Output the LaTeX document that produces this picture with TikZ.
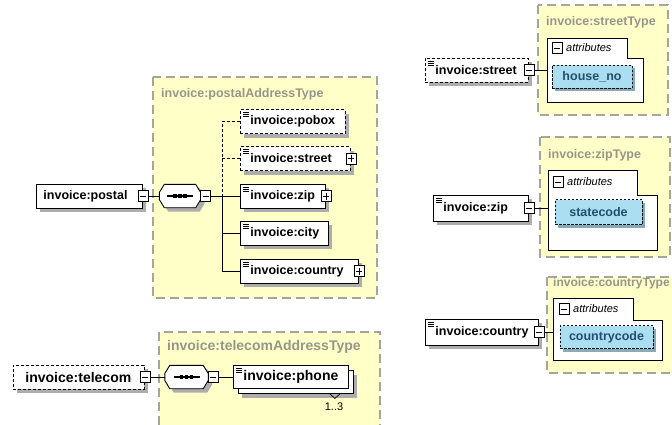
\documentclass[tikz,border=0pt]{standalone}
\usepackage{fontspec}
\setmainfont{Liberation Sans}
\usetikzlibrary{shadows}

\definecolor{typefill}{RGB}{255,255,200}
\definecolor{typeline}{RGB}{165,165,155}
\definecolor{typetext}{RGB}{150,150,140}
\definecolor{attrfill}{RGB}{170,222,240}
\definecolor{attrtext}{RGB}{35,80,110}
\definecolor{attrshade}{RGB}{135,170,185}

\tikzset{
  typebox/.style={fill=typefill, draw=typeline, line width=1.1pt, dash pattern=on 9pt off 5pt},
  typetitle/.style={anchor=west, inner sep=1pt, text=typetext, font=\bfseries\fontsize{12.5}{14}\selectfont},
  box/.style={rectangle, anchor=west, draw=black, line width=0.9pt, fill=white, minimum height=24pt, inner xsep=7pt, inner ysep=0pt, align=left, font=\bfseries\fontsize{12.5}{14}\selectfont},
  shadowed/.style={drop shadow={shadow xshift=4pt, shadow yshift=-4pt, fill=black!32, opacity=1}},
  elem/.style={box, shadowed},
  big/.style={font=\bfseries\fontsize{14}{16}\selectfont},
  optional/.style={dash pattern=on 3pt off 2pt},
  simple/.style={inner xsep=10pt, path picture={
      \foreach \k in {3,5,7}
        \draw[black, line width=0.6pt, solid] ([shift={(3pt,-\k pt)}]path picture bounding box.north west) -- ++(6pt,0);}},
  btn/.style={rectangle, draw=black, line width=0.7pt, fill=white, minimum width=10pt, minimum height=11pt, inner sep=0pt},
  collapse/.style={btn, path picture={
      \draw[line width=0.8pt] ([xshift=2pt]path picture bounding box.west) -- ([xshift=-2pt]path picture bounding box.east);}},
  expand/.style={btn, path picture={
      \draw[line width=0.8pt] ([xshift=2pt]path picture bounding box.west) -- ([xshift=-2pt]path picture bounding box.east);
      \draw[line width=0.8pt] ([yshift=2pt]path picture bounding box.south) -- ([yshift=-2pt]path picture bounding box.north);}},
  seq/.style={rectangle, minimum width=41pt, minimum height=23pt, inner sep=0pt},
  seqline/.style={draw=black, line width=0.9pt, fill=white, shadowed},
  attr/.style={rectangle, draw=black!80!attrtext, line width=0.9pt, dash pattern=on 2.5pt off 1.5pt, fill=attrfill, text=attrtext, font=\bfseries\fontsize{12.5}{14}\selectfont, minimum height=23pt, inner sep=0pt, drop shadow={shadow xshift=3pt, shadow yshift=-3pt, fill=attrshade, opacity=1}},
  attrbox/.style={draw=black, line width=0.9pt, fill=white},
  attrlabel/.style={anchor=west, inner sep=1pt, font=\itshape\fontsize{11}{13}\selectfont},
  link/.style={black, line width=0.9pt}
}

% octagon of a sequence node, with its three dots
\newcommand{\seqshape}[1]{%
  \draw[seqline] ([yshift=3.5pt]#1.west) -- ([xshift=5pt]#1.north west) -- ([xshift=-5pt]#1.north east)
    -- ([yshift=3.5pt]#1.east) -- ([yshift=-3.5pt]#1.east) -- ([xshift=-5pt]#1.south east)
    -- ([xshift=5pt]#1.south west) -- ([yshift=-3.5pt]#1.west) -- cycle;
  \draw[link, line width=1.1pt] ([xshift=-13pt]#1.center) -- ([xshift=13pt]#1.center);
  \foreach \d in {-5,0,5} \fill ([shift={(\d pt-1.6pt,1.6pt)}]#1.center) rectangle ++(3.2pt,-3.2pt);}

\begin{document}
\begin{tikzpicture}[x=1pt, y=-1pt]
\useasboundingbox (0,0) rectangle (672,424);

%types
\draw[typebox] (153,77) rectangle (377,298);
\draw[typebox] (159,332) rectangle (380,440);
\draw[typebox] (538,5) rectangle (668,115);
\draw[typebox] (540,137) rectangle (670,257);
\draw[typebox] (547,277) rectangle (680,373);
\node[typetitle] (postalT) at (160,94) {invoice:postalAddressType};
\node[typetitle, big] (telecomT) at (166,347) {invoice:telecomAddressType};
\node[typetitle] (streetT) at (545,22) {invoice:streetType};
\node[typetitle] (zipT) at (547,155) {invoice:zipType};
\node[typetitle, font=\bfseries\fontsize{12}{14}\selectfont] (countryT) at (552,283) {invoice:countryType};

%postal
\node[elem, text width=92pt] (postal) at (36,196) {invoice:postal};
\node[collapse] (postalBtn) at (postal.east) {};
\node[seq] (postalSeq) at (180,196) {};
\seqshape{postalSeq}
\node[collapse] (postalSeqBtn) at ([xshift=5pt]postalSeq.east) {};
\coordinate (trunk) at (222,196);
\node[elem, simple, optional, text width=85pt] (pobox) at (240,121.5) {invoice:pobox};
\node[elem, simple, optional, text width=90pt] (street) at (240,158.5) {invoice:street};
\node[expand] (streetBtn) at (street.east) {};
\node[elem, simple, text width=65pt] (zip) at (240,196) {invoice:zip};
\node[expand] (zipBtn) at (zip.east) {};
\node[elem, simple, text width=68pt] (city) at (240,233) {invoice:city};
\node[elem, simple, text width=98pt] (country) at (240,271) {invoice:country};
\node[expand] (countryBtn) at (country.east) {};

%telecom
\node[elem, optional, big, inner xsep=12pt, text width=107pt] (telecom) at (13,377) {invoice:telecom};
\node[collapse] (telecomBtn) at (telecom.east) {};
\node[seq, minimum width=43pt] (telecomSeq) at (186.5,377) {};
\seqshape{telecomSeq}
\node[collapse] (telecomSeqBtn) at ([xshift=5pt]telecomSeq.east) {};
\node[box, simple, big, text width=95pt, minimum height=23pt,
      drop shadow={shadow xshift=9pt, shadow yshift=-9pt, fill=black!32, opacity=1},
      copy shadow={shadow xshift=5pt, shadow yshift=-5pt}] (phone) at (233,377) {invoice:phone};
\draw[link, line width=0.7pt] ([shift={(-19pt,-5pt)}]phone.south east) -- ++(5,4.5) -- ++(5,-4.5);
\node[inner sep=1pt, font=\fontsize{11}{13}\selectfont] (phoneOcc) at (334,407) {1..3};

%streetType
\draw[attrbox] (547,38) -- (627,38) -- (627,58) -- (643,58) -- (643,102) -- (547,102) -- cycle;
\node[collapse] (streetAttrBtn) at (557,48) {};
\node[attrlabel] (streetAttrL) at (565,48) {attributes};
\node[attr, minimum width=80pt] (houseNo) at (592,76.5) {house\_no};
\node[elem, simple, optional, text width=83pt] (streetE) at (425,70) {invoice:street};
\node[collapse] (streetEBtn) at (streetE.east) {};
\coordinate (streetAttr) at (547,70);

%zipType
\draw[attrbox] (548,170) -- (637,170) -- (637,195) -- (657,195) -- (657,250) -- (548,250) -- cycle;
\node[collapse] (zipAttrBtn) at (558,182) {};
\node[attrlabel] (zipAttrL) at (566,182) {attributes};
\node[attr, minimum width=87pt, minimum height=25pt] (statecode) at (598.5,212) {statecode};
\node[elem, simple, minimum height=26pt, text width=75pt] (zipE) at (433,208) {invoice:zip};
\node[collapse] (zipEBtn) at (zipE.east) {};
\coordinate (zipAttr) at (548,208);

%countryType
\draw[attrbox] (553,298) -- (633,298) -- (633,320) -- (662,320) -- (662,360) -- (553,360) -- cycle;
\node[collapse] (countryAttrBtn) at (564,309) {};
\node[attrlabel] (countryAttrL) at (572,309) {attributes};
\node[attr, minimum width=93pt] (countrycode) at (606.5,337) {countrycode};
\node[elem, simple, minimum height=26pt, text width=93pt] (countryE) at (425,332) {invoice:country};
\node[collapse] (countryEBtn) at (countryE.east) {};
\coordinate (countryAttr) at (553,332);

%links
\draw[link] (postalBtn) -- (postalSeq);
\draw[link] (postalSeqBtn) -- (zip);
\draw[link, optional] (pobox.west) -| (trunk);
\draw[link, optional] (street.west) -- (street.west -| trunk);
\draw[link] (trunk) |- (city.west);
\draw[link] (trunk) |- (country.west);
\draw[link] (telecomBtn) -- (telecomSeq);
\draw[link] (telecomSeqBtn) -- (phone);
\draw[link] (streetEBtn) -- (streetAttr);
\draw[link] (zipEBtn) -- (zipAttr);
\draw[link] (countryEBtn) -- (countryAttr);

\end{tikzpicture}
\end{document}
